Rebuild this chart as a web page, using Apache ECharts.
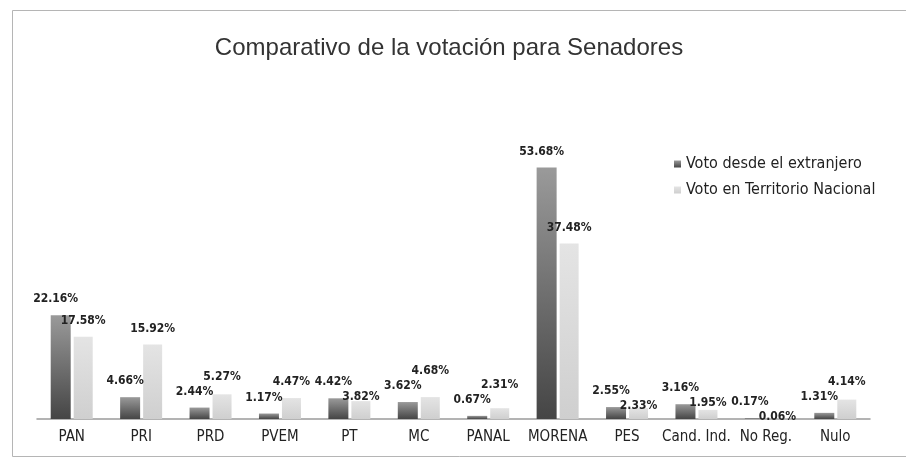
<!DOCTYPE html>
<html>
<head>
<meta charset="utf-8">
<script src="https://cdn.jsdelivr.net/npm/echarts@6/dist/echarts.min.js"></script>
<style>
html, body {margin: 0; padding: 0; background: #fff;}
#chart {width: 906px; height: 460px;}
</style>
</head>
<body>
<div id="chart"></div>
<script>
var categories = ["PAN", "PRI", "PRD", "PVEM", "PT", "MC", "PANAL", "MORENA", "PES", "Cand. Ind.", "No Reg.", "Nulo"];
var extranjero = [22.16, 4.66, 2.44, 1.17, 4.42, 3.62, 0.67, 53.68, 2.55, 3.16, 0.17, 1.31];
var territorio = [17.58, 15.92, 5.27, 4.47, 3.82, 4.68, 2.31, 37.48, 2.33, 1.95, 0.06, 4.14];

var font = "'DejaVu Sans Condensed', 'Liberation Sans', Arial, sans-serif";
var yMax = 60;
var gridTop = 138, gridBottom = 41, chartH = 460;

function grad(top, bottom) {
    return new echarts.graphic.LinearGradient(0, 0, 0, 1, [
        {offset: 0, color: top},
        {offset: 1, color: bottom}
    ]);
}

function labelStyle(dx) {
    return {
        show: true,
        position: "top",
        distance: 10,
        offset: [dx, 0],
        fontFamily: font,
        fontSize: 12,
        fontWeight: "bold",
        color: "#222",
        formatter: function (p) { return p.value.toFixed(2) + "%"; }
    };
}

// light labels that would collide with the dark one get stepped up or down
function staggerLabel(params) {
    var i = params.dataIndex;
    var ppu = (chartH - gridTop - gridBottom) / yMax;
    var d = (territorio[i] - extranjero[i]) * ppu;
    var sep = 15;
    if (d >= 0 && d < sep) return {dy: -(sep - d)};
    if (d < 0 && d > -sep) return {dy: sep + d};
    return {};
}

var chart = echarts.init(document.getElementById("chart"));
var option = {
    backgroundColor: "#fff",
    textStyle: {fontFamily: font},
    title: {
        text: "Comparativo de la votación para Senadores",
        left: 444,
        textAlign: "center",
        top: 31,
        textStyle: {
            fontFamily: "'Liberation Sans', Arial, sans-serif",
            fontSize: 24,
            fontWeight: "normal",
            color: "#333"
        }
    },
    legend: {
        orient: "vertical",
        left: 669,
        top: 151,
        itemWidth: 7,
        itemHeight: 7,
        itemGap: 10,
        icon: "rect",
        textStyle: {fontFamily: font, fontSize: 16, color: "#222"},
        data: ["Voto desde el extranjero", "Voto en Territorio Nacional"]
    },
    graphic: [{
        type: "rect",
        shape: {x: 12.5, y: 10.5, width: 900, height: 446},
        style: {fill: "none", stroke: "#b5b5b5", lineWidth: 1},
        silent: true
    }],
    grid: {left: 37, right: 36, top: gridTop, bottom: gridBottom},
    xAxis: {
        type: "category",
        data: categories,
        axisLine: {lineStyle: {color: "#9a9a9a", width: 1.5}},
        axisTick: {show: false},
        axisLabel: {interval: 0, fontFamily: font, fontSize: 15, color: "#222", margin: 11}
    },
    yAxis: {
        type: "value",
        min: 0,
        max: yMax,
        show: false,
        splitLine: {show: false}
    },
    series: [
        {
            name: "Voto desde el extranjero",
            type: "bar",
            barWidth: 20,
            barGap: "15%",
            itemStyle: {color: grad("#9a9a9a", "#454545")},
            label: labelStyle(-5),
            data: extranjero
        },
        {
            name: "Voto en Territorio Nacional",
            type: "bar",
            barWidth: 19,
            itemStyle: {color: grad("#e4e4e4", "#cfcfcf")},
            label: labelStyle(6),
            labelLayout: staggerLabel,
            data: territorio
        }
    ]
};
chart.setOption(option);
</script>
</body>
</html>
